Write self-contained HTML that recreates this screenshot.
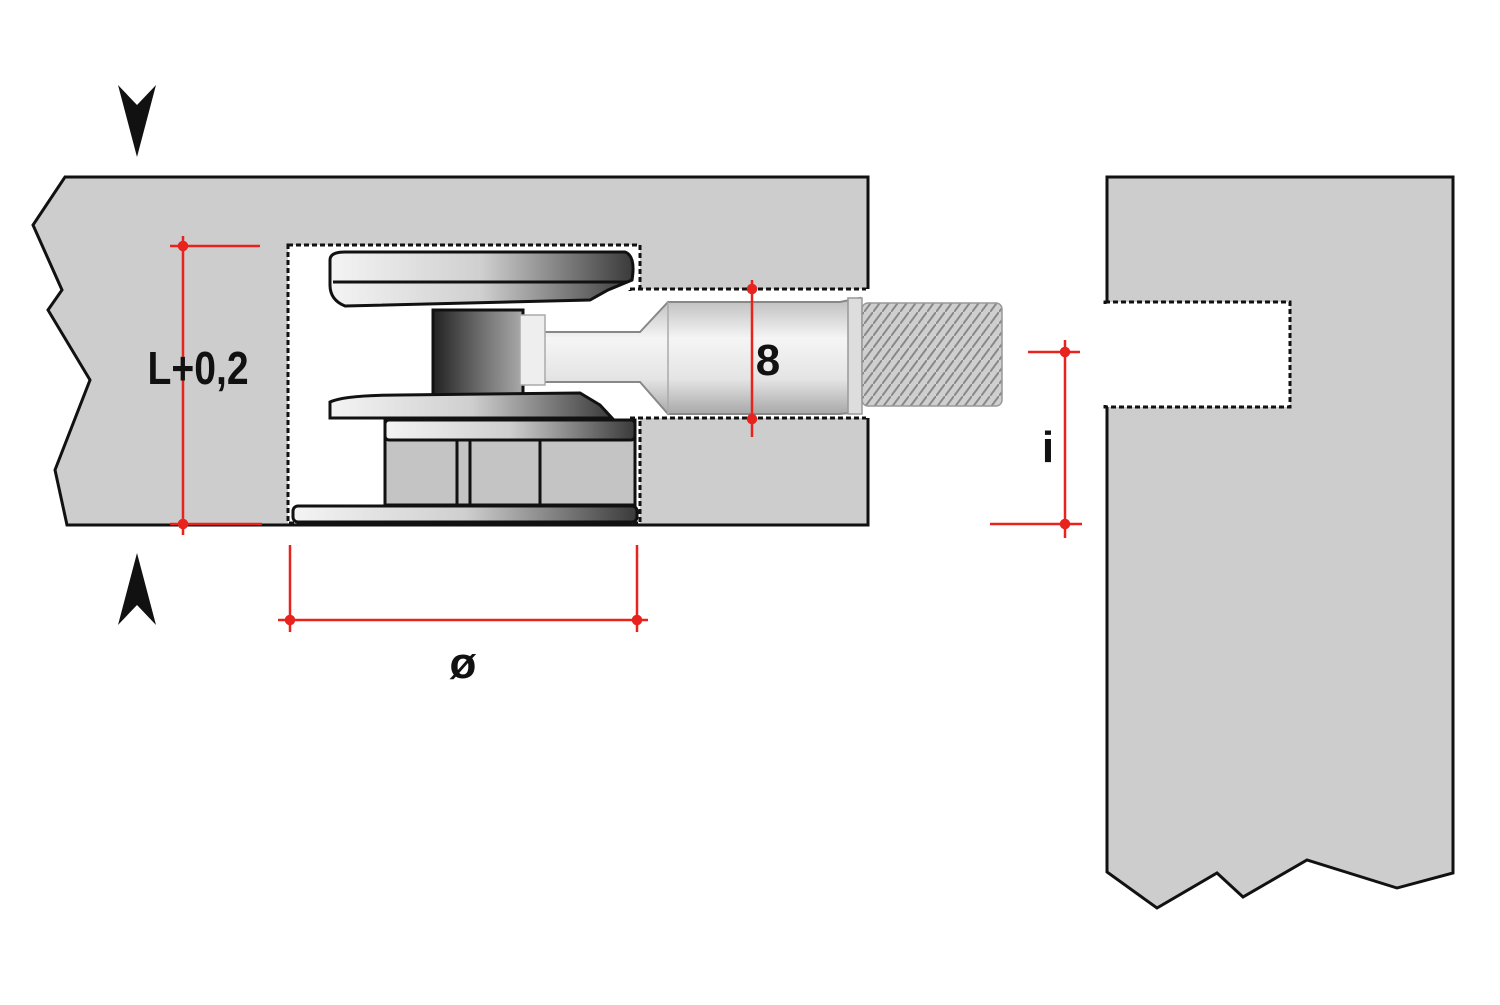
<!DOCTYPE html>
<html><head><style>html,body{margin:0;padding:0;background:#fff}</style></head><body>
<svg width="1500" height="1000" viewBox="0 0 1500 1000" xmlns="http://www.w3.org/2000/svg">
<defs>
<linearGradient id="disk" x1="0" x2="1" y1="0" y2="0"><stop offset="0" stop-color="#f4f4f4"/><stop offset="0.5" stop-color="#cfcfcf"/><stop offset="1" stop-color="#3a3a3a"/></linearGradient>
<linearGradient id="diskv" x1="0" x2="0" y1="0" y2="1"><stop offset="0" stop-color="#fff" stop-opacity="0.5"/><stop offset="1" stop-color="#000" stop-opacity="0.15"/></linearGradient>
<linearGradient id="cyl" x1="0" x2="1"><stop offset="0" stop-color="#222"/><stop offset="0.6" stop-color="#777"/><stop offset="1" stop-color="#aaa"/></linearGradient>
<linearGradient id="bolt" x1="0" x2="0" y1="0" y2="1"><stop offset="0" stop-color="#bdbdbd"/><stop offset="0.35" stop-color="#f5f5f5"/><stop offset="0.7" stop-color="#e4e4e4"/><stop offset="1" stop-color="#a8a8a8"/></linearGradient>
<pattern id="thr" width="9" height="12" patternUnits="userSpaceOnUse"><rect width="9" height="12" fill="#cfcfcf"/><path d="M0 12 L9 0" stroke="#888" stroke-width="2"/></pattern>
</defs>
<!-- left panel -->
<polygon points="65,177 868,177 868,525 67,525 55,470 90,380 48,310 62,290 33,225" fill="#cdcdcd" stroke="#111" stroke-width="3"/>
<!-- cavities -->
<rect x="288" y="245" width="352" height="278" fill="#fff" stroke="#111" stroke-width="3" stroke-dasharray="5,3"/>
<rect x="630" y="289" width="238" height="129" fill="#fff" stroke="#111" stroke-width="3" stroke-dasharray="5,3"/>
<rect x="626" y="291" width="10" height="125" fill="#fff"/>
<line x1="868" y1="289" x2="868" y2="418" stroke="#fff" stroke-width="4"/>
<!-- right panel -->
<polygon points="1107,177 1453,177 1453,873 1397,888 1307,860 1243,897 1217,873 1157,908 1107,872" fill="#cdcdcd" stroke="#111" stroke-width="3"/>
<rect x="1105" y="302" width="185" height="105" fill="#fff" stroke="#111" stroke-width="3" stroke-dasharray="5,3"/>
<rect x="1103" y="304" width="6" height="101" fill="#fff"/>
<!-- connector housing -->
<rect x="385" y="420" width="250" height="85" fill="#c4c4c4" stroke="#111" stroke-width="3"/>
<line x1="457" y1="440" x2="457" y2="505" stroke="#111" stroke-width="3"/>
<line x1="470" y1="440" x2="470" y2="505" stroke="#111" stroke-width="3"/>
<line x1="540" y1="440" x2="540" y2="505" stroke="#111" stroke-width="3"/>
<rect x="385" y="420" width="250" height="20" rx="4" fill="url(#disk)" stroke="#111" stroke-width="3"/>
<rect x="293" y="506" width="344" height="16" rx="5" fill="url(#disk)" stroke="#111" stroke-width="3"/>
<rect x="433" y="310" width="90" height="88" fill="url(#cyl)" stroke="#111" stroke-width="3"/>
<path d="M330 260 Q330 252 345 252 L625 252 Q636 256 632 280 L608 290 L590 300 L345 306 Q330 300 330 285 Z" fill="url(#disk)" stroke="#111" stroke-width="3"/>
<line x1="333" y1="282" x2="628" y2="282" stroke="#111" stroke-width="3"/>
<path d="M330 402 Q345 395 400 395 L580 393 L600 405 L612 418 L330 418 Z" fill="url(#disk)" stroke="#111" stroke-width="3"/>
<!-- bolt -->
<path d="M540 332 L640 332 L668 302 L840 302 L860 298 L860 412 L840 414 L668 414 L640 382 L540 382 Z" fill="url(#bolt)" stroke="#888" stroke-width="2"/>
<line x1="668" y1="302" x2="668" y2="414" stroke="#aaa" stroke-width="1.5"/>
<rect x="520" y="315" width="25" height="70" fill="#eee" stroke="#aaa" stroke-width="1.5"/>
<rect x="848" y="298" width="14" height="116" fill="#ddd" stroke="#999" stroke-width="1.5"/>
<rect x="862" y="303" width="140" height="103" rx="6" fill="url(#thr)" stroke="#999" stroke-width="1.5"/>
<!-- red dimensions -->
<g stroke="#e8231e" stroke-width="2.5" fill="#e8231e">
<line x1="183" y1="236" x2="183" y2="535"/><line x1="170" y1="246" x2="260" y2="246"/><line x1="170" y1="524" x2="262" y2="524"/>
<circle cx="183" cy="246" r="4"/><circle cx="183" cy="524" r="4"/>
<line x1="290" y1="545" x2="290" y2="632"/><line x1="637" y1="545" x2="637" y2="632"/><line x1="278" y1="620" x2="648" y2="620"/>
<circle cx="290" cy="620" r="4"/><circle cx="637" cy="620" r="4"/>
<line x1="752" y1="280" x2="752" y2="437"/><circle cx="752" cy="289" r="4"/><circle cx="752" cy="419" r="4"/>
<line x1="1065" y1="340" x2="1065" y2="538"/><line x1="1028" y1="352" x2="1080" y2="352"/><line x1="990" y1="524" x2="1082" y2="524"/>
<circle cx="1065" cy="352" r="4"/><circle cx="1065" cy="524" r="4"/>
</g>
<!-- arrows -->
<polygon points="118,85 137,105 156,85 137,157" fill="#111"/>
<polygon points="118,625 137,605 156,625 137,553" fill="#111"/>
<!-- labels -->
<g font-family="Liberation Sans, sans-serif" font-weight="bold" fill="#111" text-anchor="middle">
<text x="198" y="384" font-size="46" transform="scale(0.85,1) translate(35,0)">L+0,2</text>
<text x="768" y="375" font-size="44">8</text>
<text x="463" y="678" font-size="44">ø</text>
<text x="1048" y="462" font-size="44">i</text>
</g>
</svg>
</body></html>
